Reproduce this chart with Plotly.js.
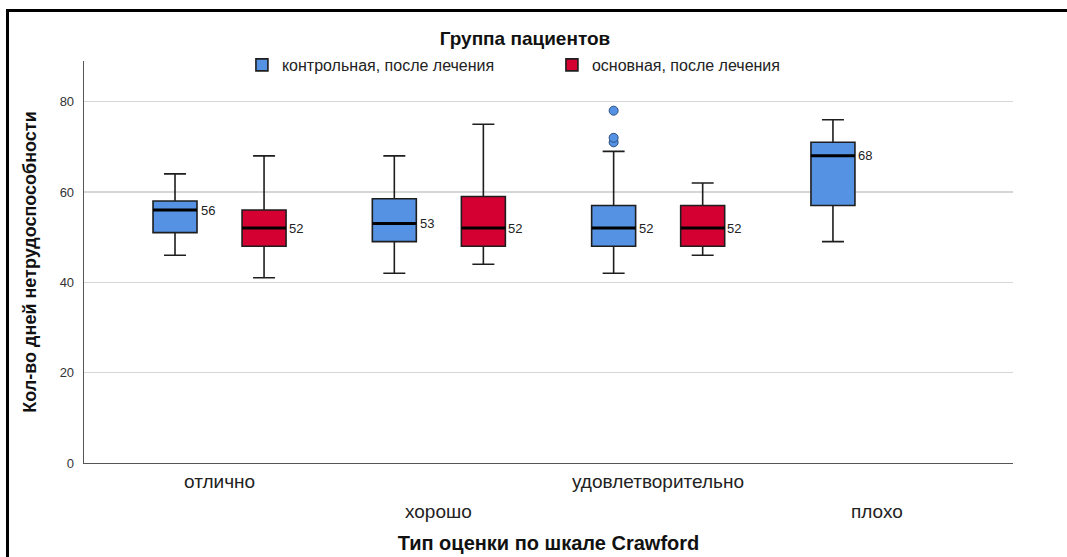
<!DOCTYPE html>
<html>
<head>
<meta charset="utf-8">
<script src="https://cdn.plot.ly/plotly-3.0.1.min.js"></script>
<style>
  html, body { margin: 0; padding: 0; background: #fff; }
  #wrap { position: relative; width: 1067px; height: 557px; overflow: hidden; }
  #frame { position: absolute; left: 6px; top: 9px; right: -10px; bottom: -10px;
           border-top: 3px solid #000; border-left: 3px solid #000; pointer-events: none; }
</style>
</head>
<body>
<div id="wrap">
  <div id="chart" style="width:1067px;height:557px;"></div>
  <div id="frame"></div>
</div>
<script>
// Crawford rating categories (x axis)
const categories = ['отлично', 'хорошо', 'удовлетворительно', 'плохо'];

// Control group, after treatment: box statistics per category
const controlName = 'контрольная, после лечения';
const controlLower = [46, 42, 42, 49];
const controlQ1 = [51, 49, 48, 57];
const controlMedian = [56, 53, 52, 68];
const controlQ3 = [58, 58.5, 57, 71];
const controlUpper = [64, 68, 69, 76];
// Outlying values of the control group
const outlierCategory = ['удовлетворительно', 'удовлетворительно', 'удовлетворительно'];
const outlierValues = [78, 72, 71];

// Main group, after treatment (no patients rated "плохо")
const mainName = 'основная, после лечения';
const mainCategories = ['отлично', 'хорошо', 'удовлетворительно'];
const mainLower = [41, 44, 46];
const mainQ1 = [48, 48, 48];
const mainMedian = [52, 52, 52];
const mainQ3 = [56, 59, 57];
const mainUpper = [68, 75, 62];

const BLUE = '#5592e3';
const RED = '#d50032';
const EDGE = '#1e1e1e';
const FONT = 'Liberation Sans, Arial, sans-serif';

function boxTrace(name, x, lo, q1, med, q3, hi, fill, group) {
  return {
    type: 'box', name: name, x: x, offsetgroup: group,
    lowerfence: lo, q1: q1, median: med, q3: q3, upperfence: hi,
    fillcolor: fill, line: { color: EDGE, width: 1.6 },
    whiskerwidth: 0.5, hoverinfo: 'skip', boxpoints: false
  };
}

// Thick median bar drawn as a zero-height box on top of each box
function medianTrace(x, med, group) {
  return {
    type: 'box', x: x, offsetgroup: group, showlegend: false,
    lowerfence: med, q1: med, median: med, q3: med, upperfence: med,
    fillcolor: 'rgba(0,0,0,0)', line: { color: '#000', width: 3 },
    whiskerwidth: 0, boxpoints: false, hoverinfo: 'skip'
  };
}

const traces = [
  boxTrace(controlName, categories, controlLower, controlQ1, controlMedian, controlQ3, controlUpper, BLUE, 'c'),
  boxTrace(mainName, mainCategories, mainLower, mainQ1, mainMedian, mainQ3, mainUpper, RED, 'm'),
  medianTrace(categories, controlMedian, 'c'),
  medianTrace(mainCategories, mainMedian, 'm'),
  {
    // outlier circles only; the box body of this trace is hidden
    type: 'box', x: outlierCategory, y: outlierValues, offsetgroup: 'c', showlegend: false,
    boxpoints: 'all', jitter: 0, pointpos: 0, hoverinfo: 'skip',
    fillcolor: 'rgba(0,0,0,0)', line: { color: 'rgba(0,0,0,0)', width: 0 }, whiskerwidth: 0,
    marker: { color: BLUE, size: 9, line: { color: '#2b4f80', width: 1 } }
  }
];

// Median value labels beside each box
const annotations = [];
controlMedian.forEach((m, i) => annotations.push({
  x: categories[i], y: m, xref: 'x', yref: 'y', text: String(m), showarrow: false,
  xanchor: 'left', xshift: -21, font: { family: FONT, size: 13, color: '#222' }
}));
mainMedian.forEach((m, i) => annotations.push({
  x: mainCategories[i], y: m, xref: 'x', yref: 'y', text: String(m), showarrow: false,
  xanchor: 'left', xshift: 67, font: { family: FONT, size: 13, color: '#222' }
}));
// Staggered category labels
categories.forEach((c, i) => annotations.push({
  x: c, y: i % 2 === 0 ? -0.045 : -0.12, xref: 'x', yref: 'paper', text: c, showarrow: false,
  yanchor: 'middle', font: { family: FONT, size: 19, color: '#222' }
}));

const layout = {
  width: 1067, height: 557,
  margin: { l: 84, r: 54, t: 61, b: 94 },
  paper_bgcolor: '#fff', plot_bgcolor: '#fff',
  font: { family: FONT, color: '#222' },
  title: {
    text: '<b>Группа пациентов</b>', xref: 'container', x: 0.492, xanchor: 'center',
    yref: 'container', y: 0.932, yanchor: 'middle',
    font: { size: 19, color: '#111' }
  },
  boxmode: 'group', boxgap: 0.188, boxgroupgap: 0.506,
  showlegend: true,
  legend: {
    orientation: 'h', x: 0.17, xanchor: 'left', y: 0.99, yanchor: 'middle',
    entrywidth: 265, font: { size: 16, color: '#222' }, bgcolor: 'rgba(0,0,0,0)'
  },
  xaxis: {
    type: 'category', range: [-0.618, 3.618], showticklabels: false, ticks: '',
    showgrid: false, showline: true, linecolor: '#555', linewidth: 1.3, zeroline: false,
    title: { text: '<b>Тип оценки по шкале Crawford</b>', standoff: 72, font: { size: 20, color: '#111' } }
  },
  yaxis: {
    range: [0, 89], tickvals: [0, 20, 40, 60, 80], ticks: '', ticklabelstandoff: 6,
    tickfont: { size: 13, color: '#333' },
    showgrid: true, gridcolor: '#d6d6d6', gridwidth: 1.5,
    showline: true, linecolor: '#555', linewidth: 1.3, zeroline: false,
    title: { text: '<b>Кол-во дней нетрудоспособности</b>', standoff: 18, font: { size: 18, color: '#111' } }
  },
  annotations: annotations
};

Plotly.newPlot('chart', traces, layout, { displayModeBar: false, staticPlot: true });
</script>
</body>
</html>
